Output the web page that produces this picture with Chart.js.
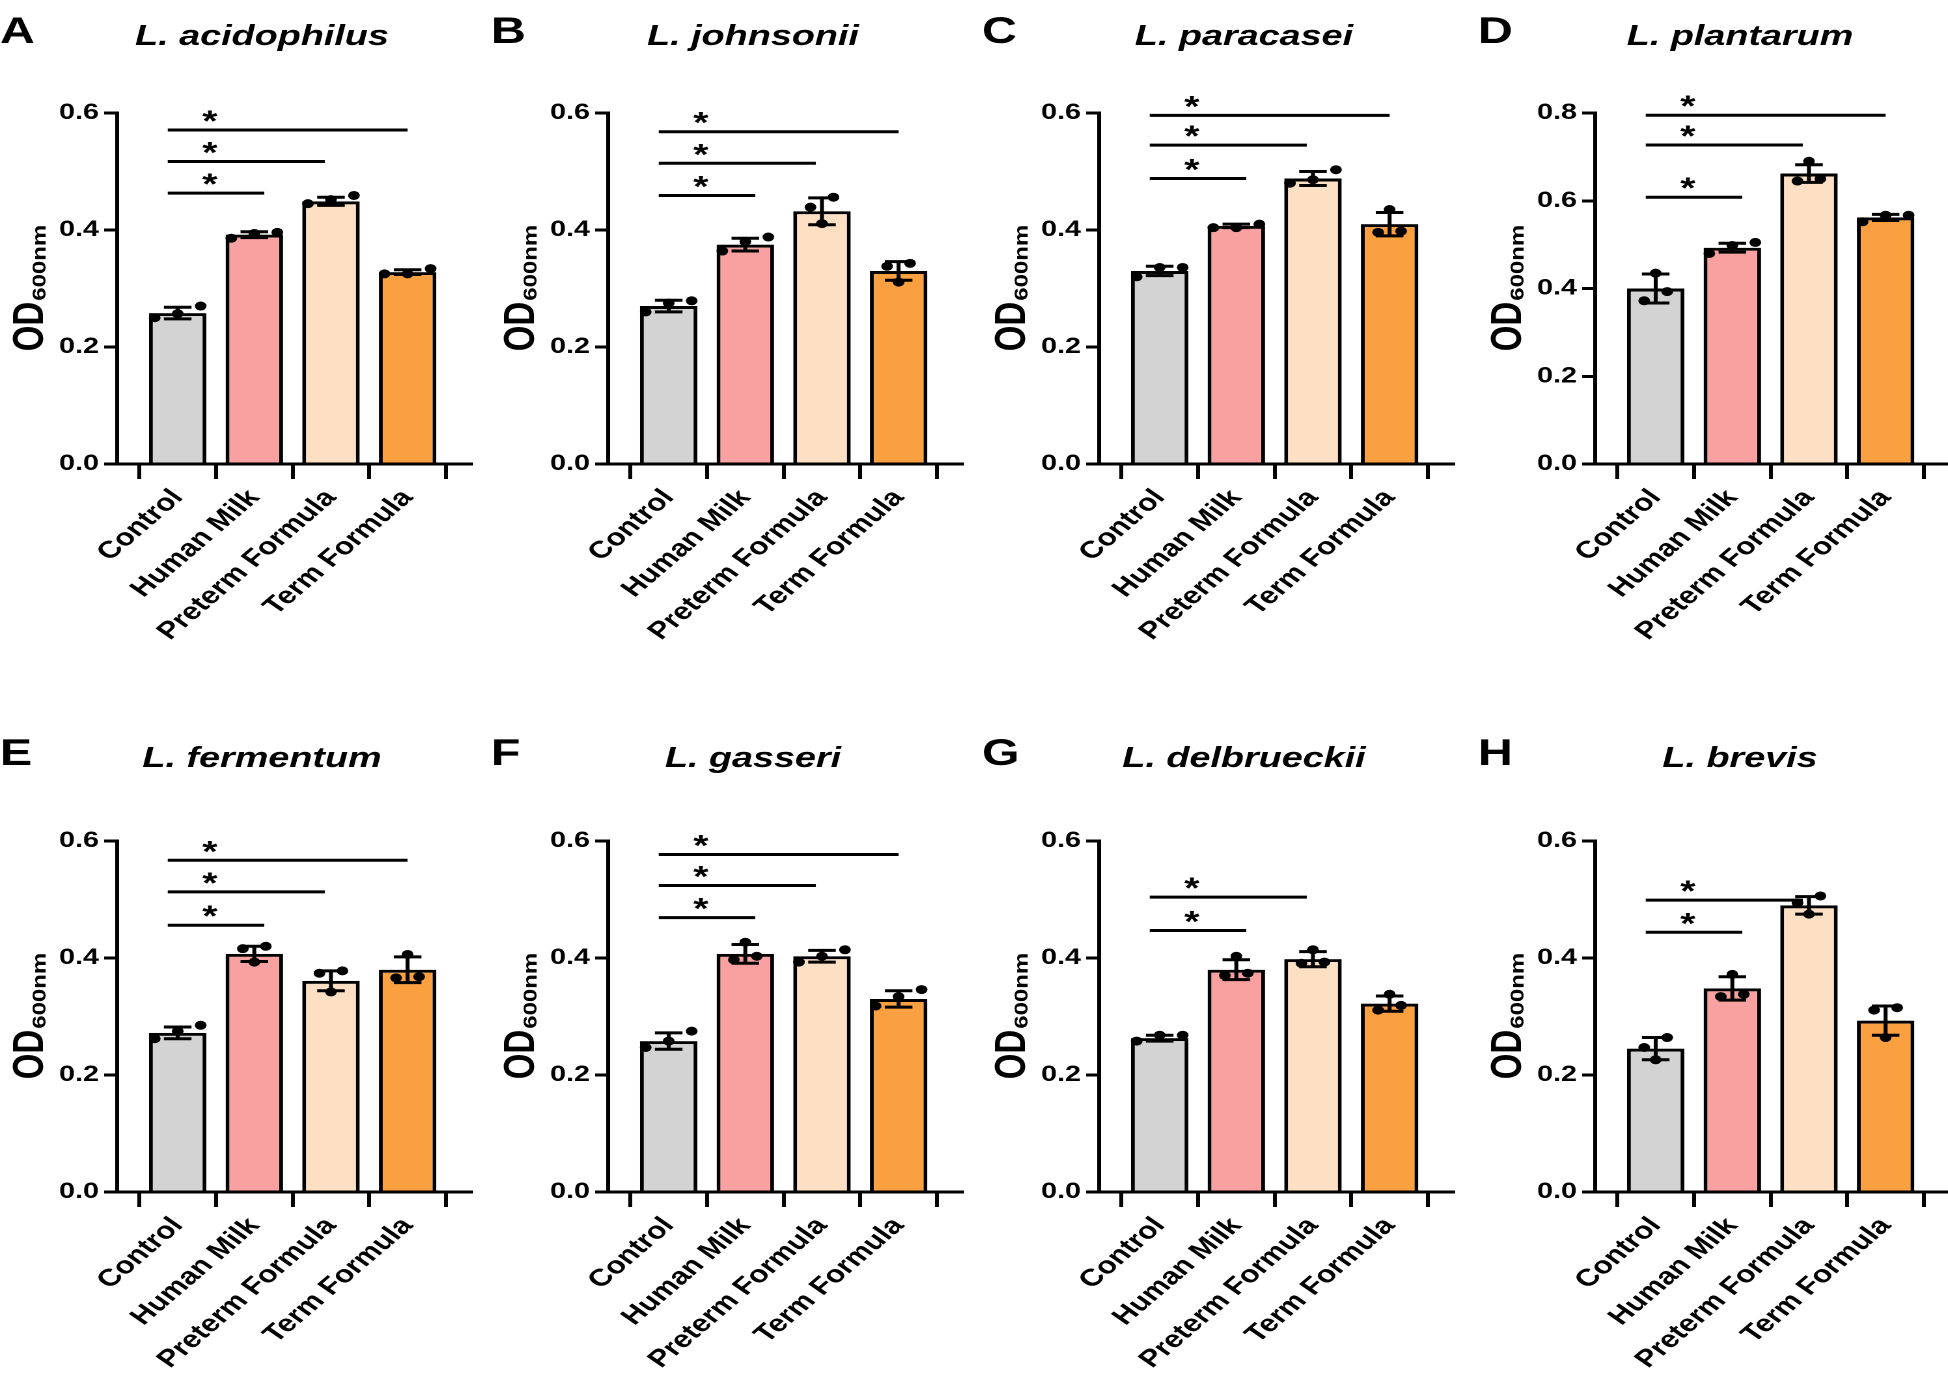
<!DOCTYPE html>
<html>
<head>
<meta charset="utf-8">
<script src="https://cdn.jsdelivr.net/npm/chart.js@4.4.1/dist/chart.umd.min.js"></script>
<style>
  html, body { margin: 0; padding: 0; background: #fff; overflow: hidden; }
  body { width: 1948px; height: 1387px; position: relative; }
  .panel { position: absolute; transform-origin: 0 0; }
</style>
</head>
<body>
<script>
// groups on the x axis
const categories = ['Control', 'Human Milk', 'Preterm Formula', 'Term Formula'];
const panelLetters = ['A', 'B', 'C', 'D', 'E', 'F', 'G', 'H'];
const species = ['L. acidophilus', 'L. johnsonii', 'L. paracasei', 'L. plantarum',
                 'L. fermentum', 'L. gasseri', 'L. delbrueckii', 'L. brevis'];
const yMax = [0.6, 0.6, 0.6, 0.8, 0.6, 0.6, 0.6, 0.6];
const yStep = 0.2;

// bar heights (mean OD600nm), one row per panel
const means = [
  [0.258, 0.392, 0.449, 0.328],
  [0.270, 0.375, 0.432, 0.330],
  [0.330, 0.407, 0.488, 0.410],
  [0.400, 0.493, 0.662, 0.562],
  [0.272, 0.407, 0.361, 0.380],
  [0.258, 0.407, 0.403, 0.330],
  [0.263, 0.380, 0.398, 0.322],
  [0.245, 0.348, 0.490, 0.293]
];

// error bars (SD)
const sds = [
  [0.010, 0.005, 0.007, 0.004],
  [0.010, 0.011, 0.023, 0.016],
  [0.008, 0.003, 0.012, 0.020],
  [0.033, 0.010, 0.020, 0.007],
  [0.010, 0.013, 0.017, 0.022],
  [0.014, 0.016, 0.010, 0.014],
  [0.005, 0.017, 0.013, 0.013],
  [0.019, 0.020, 0.015, 0.025]
];

// the three replicate points of each bar
const replicates = [
  [[0.250, 0.270, 0.257], [0.386, 0.396, 0.394], [0.445, 0.459, 0.452], [0.325, 0.334, 0.325]],
  [[0.260, 0.279, 0.275], [0.364, 0.388, 0.380], [0.411, 0.456, 0.439], [0.343, 0.338, 0.311]],
  [[0.320, 0.336, 0.336], [0.404, 0.410, 0.404], [0.503, 0.480, 0.486], [0.435, 0.396, 0.398]],
  [[0.435, 0.372, 0.393], [0.480, 0.505, 0.498], [0.690, 0.645, 0.650], [0.552, 0.567, 0.567]],
  [[0.285, 0.262, 0.275], [0.420, 0.393, 0.416], [0.378, 0.374, 0.342], [0.406, 0.366, 0.368]],
  [[0.275, 0.247, 0.258], [0.427, 0.397, 0.403], [0.414, 0.393, 0.403], [0.346, 0.318, 0.334]],
  [[0.258, 0.268, 0.268], [0.403, 0.370, 0.374], [0.414, 0.391, 0.393], [0.338, 0.311, 0.319]],
  [[0.264, 0.247, 0.226], [0.372, 0.334, 0.338], [0.506, 0.494, 0.475], [0.315, 0.311, 0.264]]
];

// significance lines vs Control: [compared group, height of the line]
const sigBars = [
  [[1, 0.463], [2, 0.517], [3, 0.571]],
  [[1, 0.459], [2, 0.514], [3, 0.568]],
  [[1, 0.488], [2, 0.545], [3, 0.596]],
  [[1, 0.608], [2, 0.727], [3, 0.795]],
  [[1, 0.456], [2, 0.513], [3, 0.567]],
  [[1, 0.469], [2, 0.524], [3, 0.577]],
  [[1, 0.447], [2, 0.504]],
  [[1, 0.444], [2, 0.499]]
];
const sigLabel = '*';

const barColors = ['#d3d3d3', '#f9a1a1', '#fde0c4', '#fba040'];
const FONT = "'Liberation Sans', Arial, sans-serif";

// page layout; the source figure is stretched sideways, so each canvas is drawn narrow and scaled
const S = 1.3;
const colLeft = [0, 491, 982, 1478];
const rowTop = [0, 728];
const rowTextShift = [0, -6];
const canvasW = 490 / S, canvasH = 659;
const areaTop = 113, areaBottom = 464, axisW = 90, rightPad = canvasW - 362;
const sigEnd = [0, 0.13, -0.08, 0];
const dotR = 4.5;

// spread overlapping replicate dots sideways, like a scatter-dot bar graph
function dotPoints(p) {
  const pxPerUnit = (areaBottom - areaTop) / yMax[p];
  const pts = [];
  replicates[p].forEach((vals, i) => {
    const sorted = vals.slice().sort((a, b) => a - b);
    const groups = [[sorted[0]]];
    for (let k = 1; k < sorted.length; k++) {
      const g = groups[groups.length - 1];
      if ((sorted[k] - g[g.length - 1]) * pxPerUnit < 10.5) g.push(sorted[k]);
      else groups.push([sorted[k]]);
    }
    groups.forEach(g => {
      g.forEach((v, k) => pts.push({ x: i + (k - (g.length - 1) / 2) * 0.3, y: v }));
    });
  });
  return pts;
}

function makeDecor(p) {
  const shift = rowTextShift[Math.floor(p / 4)];
  return {
    id: 'decor' + p,
    afterDatasetDraw(chart, args) {
      if (args.index !== 0) return;
      const { ctx, scales: { x, y } } = chart;
      ctx.save();
      ctx.strokeStyle = '#000';
      ctx.lineWidth = 3;
      means[p].forEach((m, i) => {
        const cx = x.getPixelForValue(i);
        const half = x.getPixelForValue(i + 0.18) - cx;
        const top = y.getPixelForValue(m + sds[p][i]);
        const bot = y.getPixelForValue(m - sds[p][i]);
        ctx.beginPath();
        ctx.moveTo(cx, top); ctx.lineTo(cx, bot);
        ctx.moveTo(cx - half, top); ctx.lineTo(cx + half, top);
        ctx.moveTo(cx - half, bot); ctx.lineTo(cx + half, bot);
        ctx.stroke();
      });
      ctx.restore();
    },
    afterDraw(chart) {
      const { ctx, chartArea, scales: { x, y } } = chart;
      ctx.save();
      ctx.fillStyle = '#000';
      ctx.textBaseline = 'alphabetic';

      // panel letter and species name
      ctx.font = 'bold 37px ' + FONT;
      ctx.textAlign = 'left';
      ctx.fillText(panelLetters[p], 0, 43 + shift);
      ctx.font = 'italic bold 29px ' + FONT;
      ctx.textAlign = 'center';
      ctx.fillText(species[p], x.getPixelForValue(1.1), 45 + shift);

      // y axis title OD600nm with subscript
      ctx.save();
      ctx.translate(33, (chartArea.top + chartArea.bottom) / 2);
      ctx.rotate(-Math.PI / 2);
      ctx.textAlign = 'left';
      ctx.font = 'bold 33px ' + FONT;
      const w1 = ctx.measureText('OD').width;
      ctx.font = 'bold 15px ' + FONT;
      const w2 = ctx.measureText('600nm').width * 1.6;
      const start = -(w1 + w2) / 2;
      ctx.font = 'bold 33px ' + FONT;
      ctx.fillText('OD', start, 0);
      ctx.translate(start + w1 + 1, 2);
      ctx.scale(1.6, 1);
      ctx.font = 'bold 15px ' + FONT;
      ctx.fillText('600nm', 0, 0);
      ctx.restore();

      // significance lines
      ctx.strokeStyle = '#000';
      ctx.lineWidth = 3;
      ctx.textAlign = 'center';
      ctx.font = 'bold 30px ' + FONT;
      sigBars[p].forEach(([target, level]) => {
        const yy = y.getPixelForValue(level);
        ctx.beginPath();
        ctx.moveTo(x.getPixelForValue(-0.13), yy);
        ctx.lineTo(x.getPixelForValue(target + sigEnd[target]), yy);
        ctx.stroke();
        ctx.fillText(sigLabel, x.getPixelForValue(0.42), yy + 1);
      });
      ctx.restore();
    }
  };
}

const axisBorder = { display: true, color: '#000', width: 3 };

for (let p = 0; p < 8; p++) {
  const div = document.createElement('div');
  div.className = 'panel';
  div.style.left = colLeft[p % 4] + 'px';
  div.style.top = rowTop[Math.floor(p / 4)] + 'px';
  div.style.width = canvasW + 'px';
  div.style.height = canvasH + 'px';
  div.style.transform = 'scaleX(' + S + ')';
  const canvas = document.createElement('canvas');
  div.appendChild(canvas);
  document.body.appendChild(div);

  new Chart(canvas, {
    type: 'bar',
    data: {
      datasets: [{
        type: 'bar',
        data: means[p].map((m, i) => ({ x: i, y: m })),
        backgroundColor: barColors,
        borderColor: '#000',
        borderWidth: 3,
        barPercentage: 0.75,
        categoryPercentage: 1,
        order: 2
      }, {
        type: 'scatter',
        data: dotPoints(p),
        pointRadius: dotR,
        pointBackgroundColor: '#000',
        pointBorderColor: '#000',
        pointBorderWidth: 0,
        clip: false,
        order: 1
      }]
    },
    options: {
      responsive: true,
      maintainAspectRatio: false,
      animation: false,
      devicePixelRatio: 2,
      layout: { padding: { left: 0, right: rightPad, top: areaTop, bottom: 0 } },
      plugins: {
        legend: { display: false },
        tooltip: { enabled: false },
        title: { display: false }
      },
      scales: {
        x: {
          type: 'linear',
          min: -0.79,
          max: 3.83,
          offset: false,
          afterBuildTicks: s => { s.ticks = categories.map((c, i) => ({ value: i })); },
          afterFit: s => { s.height = canvasH - areaBottom; },
          ticks: {
            autoSkip: false,
            minRotation: 48,
            maxRotation: 48,
            padding: 5,
            color: '#000',
            font: { family: FONT, size: 24, weight: 'bold' },
            callback: v => categories[v]
          },
          grid: { drawOnChartArea: false, drawTicks: true, tickLength: 15, lineWidth: 3, color: '#000' },
          border: axisBorder
        },
        y: {
          min: 0,
          max: yMax[p],
          afterFit: s => { s.width = axisW; },
          ticks: {
            stepSize: yStep,
            padding: 4,
            color: '#000',
            font: { family: FONT, size: 22, weight: 'bold' },
            callback: v => v.toFixed(1)
          },
          grid: { drawOnChartArea: false, drawTicks: true, tickLength: 10, lineWidth: 3, color: '#000' },
          border: axisBorder
        }
      }
    },
    plugins: [makeDecor(p)]
  });
}
</script>
</body>
</html>
